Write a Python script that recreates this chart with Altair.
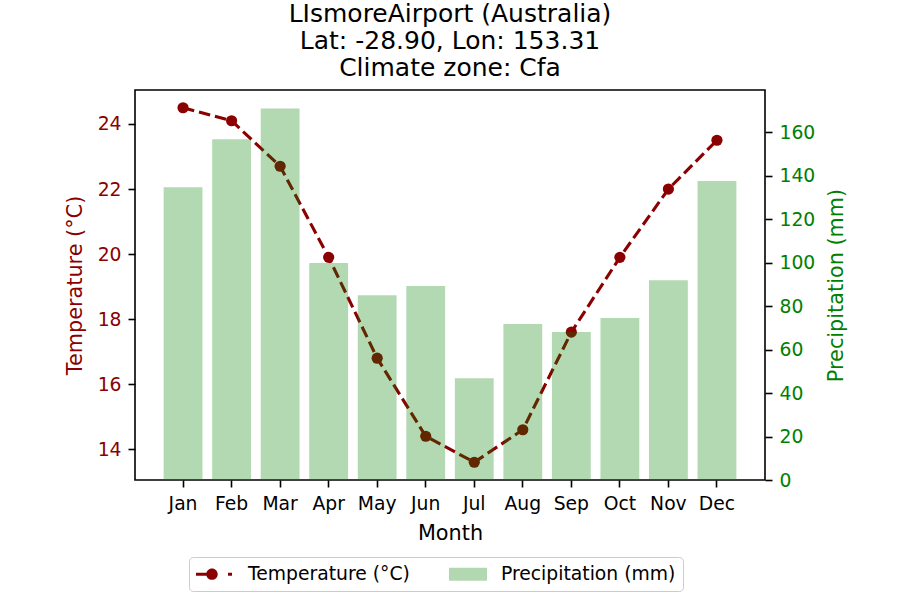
import altair as alt
import pandas as pd

months = ["Jan", "Feb", "Mar", "Apr", "May", "Jun", "Jul", "Aug", "Sep", "Oct", "Nov", "Dec"]
temperature = [24.5, 24.1, 22.7, 19.9, 16.8, 14.4, 13.6, 14.6, 17.6, 19.9, 22.0, 23.5]
precipitation = [134.8, 156.9, 171.0, 99.9, 85.1, 89.3, 46.9, 71.8, 68.1, 74.6, 92.0, 137.6]
temp_ticks = [14, 16, 18, 20, 22, 24]
precip_ticks = [0, 20, 40, 60, 80, 100, 120, 140, 160]
series = ["Temperature (°C)", "Precipitation (mm)"]
title_lines = ["LIsmoreAirport (Australia)", "Lat: -28.90, Lon: 153.31", "Climate zone: Cfa"]

FONT = "DejaVu Sans"
DARKRED = "#8b0000"
GREEN = "#008000"

df = pd.DataFrame({"month": months, "temp": temperature, "precip": precipitation})
legend_df = pd.DataFrame({"series": series, "v": [None, None]})

# temperature y-range with matplotlib-like 5% margins
t_lo, t_hi = min(temperature), max(temperature)
t_pad = (t_hi - t_lo) * 0.05
p_hi = max(precipitation) * 1.05

x = alt.X(
    "month:N",
    scale=alt.Scale(domain=months, paddingInner=0.2, paddingOuter=0.59),
    axis=alt.Axis(title="Month", labelAngle=0, labelColor="black", titleColor="black",
                  titlePadding=11),
)

line = alt.Chart(df).mark_line(color=DARKRED, strokeWidth=3.1, strokeDash=[11.5, 5]).encode(
    x=x,
    y=alt.Y(
        "temp:Q",
        scale=alt.Scale(domain=[t_lo - t_pad, t_hi + t_pad], nice=False, zero=False),
        axis=alt.Axis(title="Temperature (°C)", values=temp_ticks, orient="left",
                      labelColor=DARKRED, titleColor=DARKRED, titlePadding=12),
    ),
)
points = alt.Chart(df).mark_point(filled=True, color=DARKRED, size=125, opacity=1).encode(
    x=x, y=alt.Y("temp:Q")
)
temp_layer = alt.layer(line, points)

bars = alt.Chart(df).mark_bar(color=GREEN, opacity=0.3).encode(
    x=x,
    y=alt.Y(
        "precip:Q",
        scale=alt.Scale(domain=[0, p_hi], nice=False),
        axis=alt.Axis(title="Precipitation (mm)", values=precip_ticks, orient="right",
                      labelColor=GREEN, titleColor=GREEN, titleAngle=270,
                      titleBaseline="top", titlePadding=12),
    ),
)

# legend glyphs (unit = 10 px, centre of symbol column at 10 px)
T_PATH = ("M-1,-0.15L0.1,-0.15L0.1,0.15L-1,0.15Z "
          "M2.2,-0.15L2.6,-0.15L2.6,0.15L2.2,0.15Z "
          "M1.17,0A0.57,0.57 0 1,1 0.03,0A0.57,0.57 0 1,1 1.17,0Z")
P_PATH = "M-1,-0.65L2.8,-0.65L2.8,0.65L-1,0.65Z"

leg = alt.Legend(
    title=None, orient="none", legendX=54, legendY=467, direction="horizontal",
    symbolSize=400, symbolStrokeWidth=0, symbolOpacity=1,
    labelFont=FONT, labelFontSize=18.75, labelColor="black", labelLimit=400,
    padding=7, strokeColor="#cccccc", fillColor="white", cornerRadius=4,
    columnPadding=39, labelOffset=32,
)

legend_layer = alt.Chart(legend_df).mark_point(filled=True, opacity=1).encode(
    y=alt.Y("v:Q", axis=None, scale=alt.Scale(domain=[0, 1])),
    color=alt.Color("series:N", scale=alt.Scale(domain=series, range=[DARKRED, "#b2d8b2"]), legend=leg),
    shape=alt.Shape("series:N", scale=alt.Scale(domain=series, range=[T_PATH, P_PATH]), legend=leg),
)

chart = (
    alt.layer(temp_layer, bars, legend_layer)
    .resolve_scale(y="independent")
    .properties(
        width=630,
        height=390,
        title=alt.TitleParams(text=title_lines, font=FONT, fontSize=25, fontWeight="normal",
                              color="black", anchor="middle", lineHeight=27, offset=9),
        padding={"left": 135, "top": 90, "right": 135, "bottom": 120},
        autosize=alt.AutoSizeParams(type="none"),
        background="white",
    )
    .configure_view(stroke="black", strokeWidth=1.6)
    .configure_axis(
        grid=False, domain=False, labelFont=FONT, labelFontSize=18.75, titleFont=FONT,
        titleFontSize=20.8, titleFontWeight="normal", tickSize=7, tickWidth=1.6,
        tickColor="black", labelPadding=7,
    )
)

chart.save("out.html", embed_options={"renderer": "svg", "actions": False})
